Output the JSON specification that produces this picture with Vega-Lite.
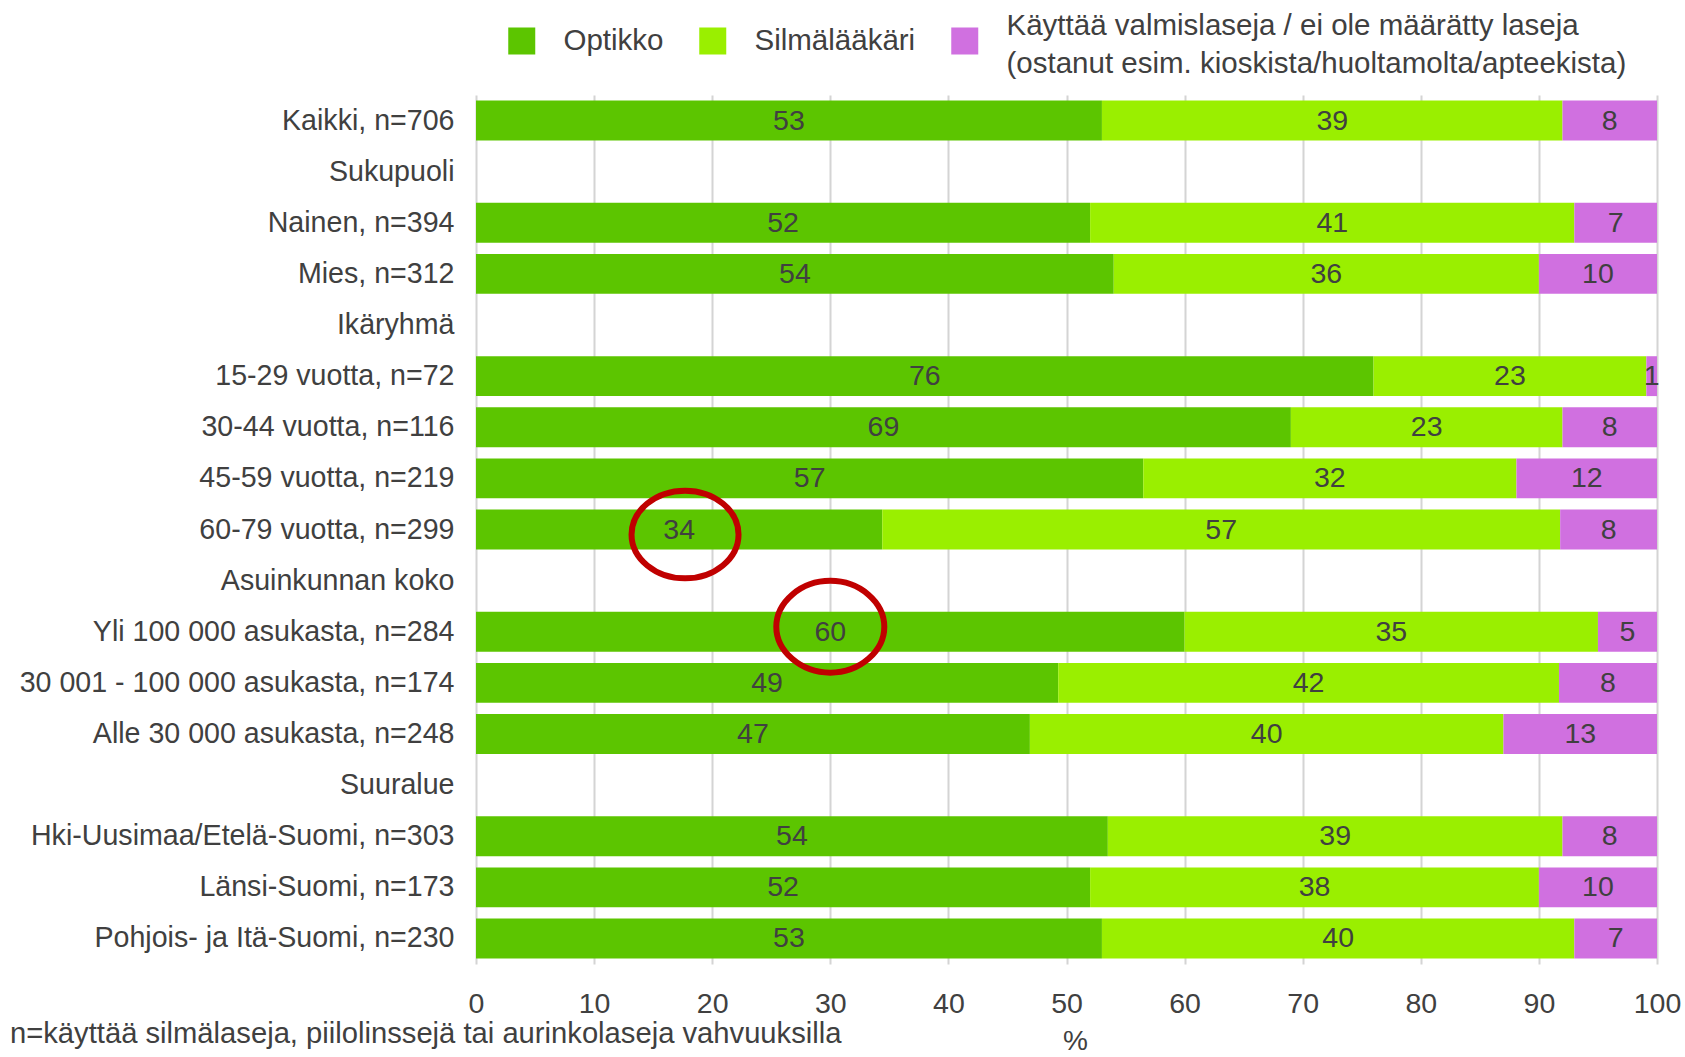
{
  "$schema": "https://vega.github.io/schema/vega-lite/v6.json",
  "width": 1181,
  "height": 869,
  "autosize": {"type": "none"},
  "padding": {"left": 476, "top": 95, "right": 28, "bottom": 93},
  "background": "white",
  "config": {
    "font": "Liberation Sans",
    "view": {"stroke": null},
    "style": {"guide-label": {"lineHeight": 37.5}},
    "axis": {"labelColor": "#404040", "titleColor": "#404040", "labelFontSize": 28.5, "titleFontSize": 28, "titleFontWeight": "normal"}
  },
  "title": {
    "text": "n=käyttää silmälaseja, piilolinssejä tai aurinkolaseja vahvuuksilla",
    "orient": "bottom",
    "anchor": "start",
    "frame": "group",
    "dx": -466,
    "dy": -40,
    "fontSize": 29.2,
    "fontWeight": "normal",
    "color": "#404040",
    "font": "Liberation Sans"
  },
  "datasets": {
    "bars": [
      {"category": "Kaikki, n=706", "group": "Optikko", "value": 53.0, "label": 53},
      {"category": "Kaikki, n=706", "group": "Silmälääkäri", "value": 39.0, "label": 39},
      {"category": "Kaikki, n=706", "group": "Käyttää valmislaseja / ei ole määrätty laseja (ostanut esim. kioskista/huoltamolta/apteekista)", "value": 8.0, "label": 8},
      {"category": "Nainen, n=394", "group": "Optikko", "value": 52.0, "label": 52},
      {"category": "Nainen, n=394", "group": "Silmälääkäri", "value": 41.0, "label": 41},
      {"category": "Nainen, n=394", "group": "Käyttää valmislaseja / ei ole määrätty laseja (ostanut esim. kioskista/huoltamolta/apteekista)", "value": 7.0, "label": 7},
      {"category": "Mies, n=312", "group": "Optikko", "value": 54.0, "label": 54},
      {"category": "Mies, n=312", "group": "Silmälääkäri", "value": 36.0, "label": 36},
      {"category": "Mies, n=312", "group": "Käyttää valmislaseja / ei ole määrätty laseja (ostanut esim. kioskista/huoltamolta/apteekista)", "value": 10.0, "label": 10},
      {"category": "15-29 vuotta, n=72", "group": "Optikko", "value": 76.0, "label": 76},
      {"category": "15-29 vuotta, n=72", "group": "Silmälääkäri", "value": 23.1, "label": 23},
      {"category": "15-29 vuotta, n=72", "group": "Käyttää valmislaseja / ei ole määrätty laseja (ostanut esim. kioskista/huoltamolta/apteekista)", "value": 0.9, "label": 1},
      {"category": "30-44 vuotta, n=116", "group": "Optikko", "value": 69.0, "label": 69},
      {"category": "30-44 vuotta, n=116", "group": "Silmälääkäri", "value": 23.0, "label": 23},
      {"category": "30-44 vuotta, n=116", "group": "Käyttää valmislaseja / ei ole määrätty laseja (ostanut esim. kioskista/huoltamolta/apteekista)", "value": 8.0, "label": 8},
      {"category": "45-59 vuotta, n=219", "group": "Optikko", "value": 56.5, "label": 57},
      {"category": "45-59 vuotta, n=219", "group": "Silmälääkäri", "value": 31.6, "label": 32},
      {"category": "45-59 vuotta, n=219", "group": "Käyttää valmislaseja / ei ole määrätty laseja (ostanut esim. kioskista/huoltamolta/apteekista)", "value": 11.9, "label": 12},
      {"category": "60-79 vuotta, n=299", "group": "Optikko", "value": 34.4, "label": 34},
      {"category": "60-79 vuotta, n=299", "group": "Silmälääkäri", "value": 57.4, "label": 57},
      {"category": "60-79 vuotta, n=299", "group": "Käyttää valmislaseja / ei ole määrätty laseja (ostanut esim. kioskista/huoltamolta/apteekista)", "value": 8.2, "label": 8},
      {"category": "Yli 100 000 asukasta, n=284", "group": "Optikko", "value": 60.0, "label": 60},
      {"category": "Yli 100 000 asukasta, n=284", "group": "Silmälääkäri", "value": 35.0, "label": 35},
      {"category": "Yli 100 000 asukasta, n=284", "group": "Käyttää valmislaseja / ei ole määrätty laseja (ostanut esim. kioskista/huoltamolta/apteekista)", "value": 5.0, "label": 5},
      {"category": "30 001 - 100 000 asukasta, n=174", "group": "Optikko", "value": 49.3, "label": 49},
      {"category": "30 001 - 100 000 asukasta, n=174", "group": "Silmälääkäri", "value": 42.4, "label": 42},
      {"category": "30 001 - 100 000 asukasta, n=174", "group": "Käyttää valmislaseja / ei ole määrätty laseja (ostanut esim. kioskista/huoltamolta/apteekista)", "value": 8.3, "label": 8},
      {"category": "Alle 30 000 asukasta, n=248", "group": "Optikko", "value": 46.9, "label": 47},
      {"category": "Alle 30 000 asukasta, n=248", "group": "Silmälääkäri", "value": 40.1, "label": 40},
      {"category": "Alle 30 000 asukasta, n=248", "group": "Käyttää valmislaseja / ei ole määrätty laseja (ostanut esim. kioskista/huoltamolta/apteekista)", "value": 13.0, "label": 13},
      {"category": "Hki-Uusimaa/Etelä-Suomi, n=303", "group": "Optikko", "value": 53.5, "label": 54},
      {"category": "Hki-Uusimaa/Etelä-Suomi, n=303", "group": "Silmälääkäri", "value": 38.5, "label": 39},
      {"category": "Hki-Uusimaa/Etelä-Suomi, n=303", "group": "Käyttää valmislaseja / ei ole määrätty laseja (ostanut esim. kioskista/huoltamolta/apteekista)", "value": 8.0, "label": 8},
      {"category": "Länsi-Suomi, n=173", "group": "Optikko", "value": 52.0, "label": 52},
      {"category": "Länsi-Suomi, n=173", "group": "Silmälääkäri", "value": 38.0, "label": 38},
      {"category": "Länsi-Suomi, n=173", "group": "Käyttää valmislaseja / ei ole määrätty laseja (ostanut esim. kioskista/huoltamolta/apteekista)", "value": 10.0, "label": 10},
      {"category": "Pohjois- ja Itä-Suomi, n=230", "group": "Optikko", "value": 53.0, "label": 53},
      {"category": "Pohjois- ja Itä-Suomi, n=230", "group": "Silmälääkäri", "value": 40.0, "label": 40},
      {"category": "Pohjois- ja Itä-Suomi, n=230", "group": "Käyttää valmislaseja / ei ole määrätty laseja (ostanut esim. kioskista/huoltamolta/apteekista)", "value": 7.0, "label": 7}
    ]
  },
  "encoding": {
    "y": {
      "field": "category",
      "type": "nominal",
      "title": null,
      "scale": {
        "domain": [
          "Kaikki, n=706", "Sukupuoli", "Nainen, n=394", "Mies, n=312", "Ikäryhmä",
          "15-29 vuotta, n=72", "30-44 vuotta, n=116", "45-59 vuotta, n=219", "60-79 vuotta, n=299",
          "Asuinkunnan koko", "Yli 100 000 asukasta, n=284", "30 001 - 100 000 asukasta, n=174", "Alle 30 000 asukasta, n=248",
          "Suuralue", "Hki-Uusimaa/Etelä-Suomi, n=303", "Länsi-Suomi, n=173", "Pohjois- ja Itä-Suomi, n=230"
        ],
        "paddingInner": 0.22,
        "paddingOuter": 0.11
      },
      "axis": {"domain": false, "ticks": false, "grid": false, "labelPadding": 22, "labelLimit": 600, "labelFontSize": 28.6, "labelColor": "#404040"}
    }
  },
  "layer": [
    {
      "data": {"name": "bars"},
      "transform": [
        {"calculate": "indexof(['Optikko','Silmälääkäri'], datum.group) < 0 ? 2 : indexof(['Optikko','Silmälääkäri'], datum.group)", "as": "k"},
        {"stack": "value", "groupby": ["category"], "sort": [{"field": "k", "order": "ascending"}], "as": ["x0", "x1"]},
        {"calculate": "(datum.x0 + datum.x1) / 2", "as": "mid"}
      ],
      "layer": [
        {
          "mark": {"type": "bar"},
          "encoding": {
            "x": {
              "field": "x0",
              "type": "quantitative",
              "scale": {"domain": [0, 100], "nice": false},
              "title": "%",
              "axis": {
                "values": [0, 10, 20, 30, 40, 50, 60, 70, 80, 90, 100],
                "grid": true,
                "gridColor": "#D4D4D4",
                "gridWidth": 2,
                "domain": false,
                "ticks": false,
                "labelFlush": false,
                "labelPadding": 25,
                "titlePadding": 10,
                "titleX": 599,
                "labelFontSize": 28.5,
                "titleFontSize": 28
              }
            },
            "x2": {"field": "x1"},
            "color": {
              "field": "group",
              "type": "nominal",
              "scale": {
                "domain": ["Optikko", "Silmälääkäri", "Käyttää valmislaseja / ei ole määrätty laseja (ostanut esim. kioskista/huoltamolta/apteekista)"],
                "range": ["#5CC500", "#9AEF00", "#D070E0"]
              },
              "legend": {
                "orient": "none",
                "direction": "horizontal",
                "legendX": 31,
                "legendY": -94,
                "padding": 0,
                "title": null,
                "symbolType": "square",
                "symbolSize": 729,
                "symbolStrokeWidth": 0,
                "clipHeight": 80,
                "labelFontSize": 29.5,
                "labelColor": "#404040",
                "labelOffset": 27,
                "labelLimit": 800,
                "columnPadding": 34,
                "labelBaseline": {"expr": "length(datum.value) > 20 ? 'bottom' : 'middle'"},
                "labelExpr": "indexof(datum.label, ' (') > 0 ? [substring(datum.label, 0, indexof(datum.label, ' (')), substring(datum.label, indexof(datum.label, ' (') + 1)] : datum.label"
              }
            }
          }
        },
        {
          "mark": {"type": "text", "fontSize": 28.5, "color": "#404040", "align": "center", "baseline": "middle"},
          "encoding": {
            "x": {"field": "mid", "type": "quantitative"},
            "text": {"field": "label", "type": "quantitative"}
          }
        }
      ]
    },
    {
      "data": {"values": [{"category": "60-79 vuotta, n=299", "x": 17.7}]},
      "mark": {
        "type": "point",
        "shape": "M -1 0 C -1 -0.45 -0.55 -0.82 0 -0.82 C 0.55 -0.82 1 -0.45 1 0 C 1 0.45 0.55 0.82 0 0.82 C -0.55 0.82 -1 0.45 -1 0 Z",
        "filled": false,
        "stroke": "#C00000",
        "strokeWidth": 6,
        "opacity": 1,
        "size": 11449,
        "yOffset": 5
      },
      "encoding": {
        "x": {"field": "x", "type": "quantitative"}
      }
    },
    {
      "data": {"values": [{"category": "Yli 100 000 asukasta, n=284", "x": 30.0}]},
      "mark": {
        "type": "point",
        "shape": "M -1 0 C -1 -0.45 -0.55 -0.85 0 -0.85 C 0.55 -0.85 1 -0.45 1 0 C 1 0.45 0.55 0.85 0 0.85 C -0.55 0.85 -1 0.45 -1 0 Z",
        "filled": false,
        "stroke": "#C00000",
        "strokeWidth": 6,
        "opacity": 1,
        "size": 11664,
        "yOffset": -5
      },
      "encoding": {
        "x": {"field": "x", "type": "quantitative"}
      }
    }
  ]
}
